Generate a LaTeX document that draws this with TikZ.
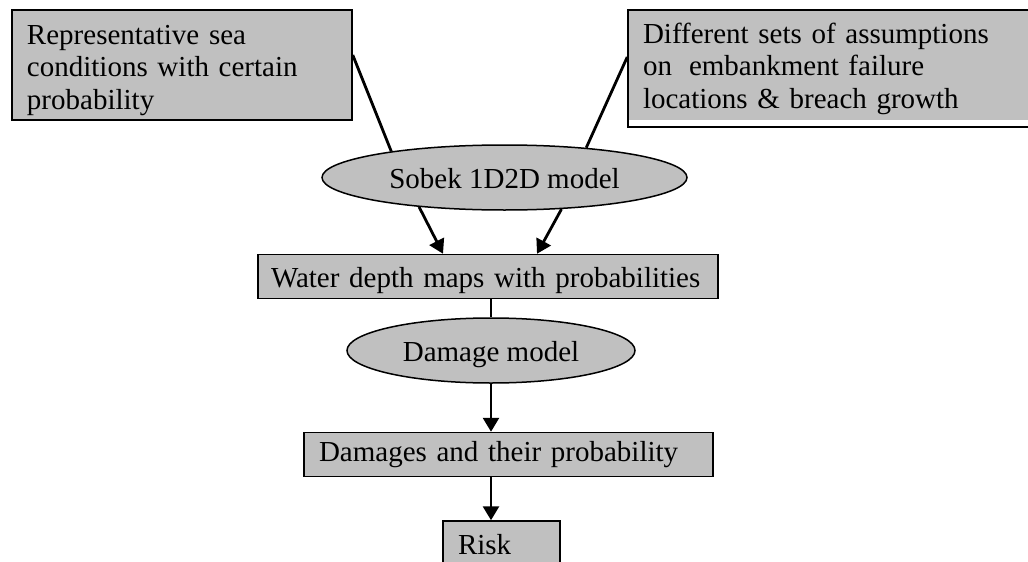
\documentclass[tikz,border=0pt]{standalone}
\usepackage{fontspec}
\setmainfont{Liberation Serif}
\usetikzlibrary{shapes.geometric,arrows.meta}
\definecolor{boxgray}{RGB}{192,192,192}

\begin{document}
\begin{tikzpicture}[x=1pt, y=-1pt,
    every node/.style={font=\fontsize{29}{32.5}\selectfont},
    infobox/.style={draw, fill=boxgray, line width=1.5pt, inner xsep=15pt, inner ysep=0pt, align=left},
    linebox/.style={infobox, text height=22pt, text depth=8pt, minimum height=44pt},
    modelnode/.style={ellipse, draw, fill=boxgray, line width=1.5pt, inner sep=2pt,
      text height=22pt, text depth=0pt, minimum height=65pt},
    flowline/.style={line width=2.8pt},
    flowarrow/.style={flowline, -{Triangle[length=14pt, width=16pt]}}]
  \useasboundingbox (0, 0) rectangle (1028, 562);
  \node[infobox, minimum width=340pt, minimum height=110pt, text width=310pt] (sea) at (182, 65)
    {\rule{0pt}{30pt}Representative sea\\conditions with certain\\probability};
  \node[infobox, minimum width=417pt, minimum height=117pt, text width=387pt,
    path picture={\fill[white] ([yshift=7pt]path picture bounding box.south west)
      rectangle (path picture bounding box.south east);}] (dsets) at (836.5, 68.5)
    {Different sets of assumptions\\on\hspace{17pt}embankment failure\\locations \& breach growth};
  \node[modelnode, minimum width=365pt] (sobek) at (504.5, 177.5) {Sobek 1D2D model};
  \node[linebox, minimum width=460pt, text width=434pt, inner xsep=13pt, text depth=0pt] (water) at (488, 276.5)
    {Water depth maps with probabilities};
  \node[modelnode, minimum width=288pt] (damage) at (491, 350.5) {Damage model};
  \node[linebox, minimum width=409pt, text width=379pt] (dmg) at (508.5, 454.5)
    {Damages and their probability};
  \node[linebox, minimum width=117pt, text width=87pt, minimum height=45pt, text depth=0pt] (risk) at (501.5, 543.5) {Risk};

  \draw[flowline] ([yshift=10pt]sea.east) -- (sobek.167);
  \draw[flowline] ([yshift=11.5pt]dsets.west) -- (sobek.20);
  \draw[flowarrow] (sobek.199) -- ([xshift=-45pt]water.north);
  \draw[flowarrow] (sobek.331) -- ([xshift=49pt]water.north);
  \draw[flowline] (water.south -| damage.north) -- (damage.north);
  \draw[flowarrow] (damage.south) -- (damage.south |- dmg.north);
  \draw[flowarrow] (damage.south |- dmg.south) -- (damage.south |- risk.north);
\end{tikzpicture}
\end{document}
